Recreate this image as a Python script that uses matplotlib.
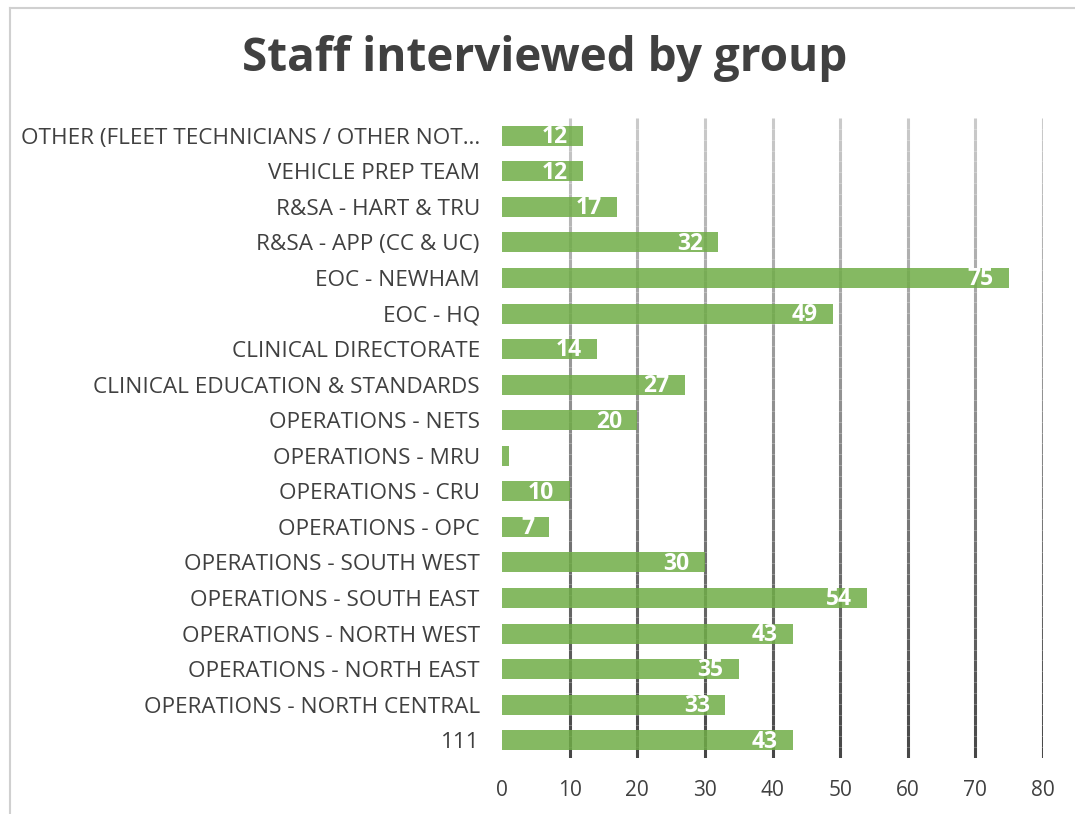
import numpy as np
import matplotlib
matplotlib.use("Agg")
import matplotlib.pyplot as plt
from matplotlib.collections import LineCollection
from matplotlib.lines import Line2D

# bottom to top, as drawn
groups = [
    "111",
    "OPERATIONS - NORTH CENTRAL",
    "OPERATIONS - NORTH EAST",
    "OPERATIONS - NORTH WEST",
    "OPERATIONS - SOUTH EAST",
    "OPERATIONS - SOUTH WEST",
    "OPERATIONS - OPC",
    "OPERATIONS - CRU",
    "OPERATIONS - MRU",
    "OPERATIONS - NETS",
    "CLINICAL EDUCATION & STANDARDS",
    "CLINICAL DIRECTORATE",
    "EOC - HQ",
    "EOC - NEWHAM",
    "R&SA - APP (CC & UC)",
    "R&SA - HART & TRU",
    "VEHICLE PREP TEAM",
    "OTHER (FLEET TECHNICIANS / OTHER NOT\u2026",
]
staff = [43, 33, 35, 43, 54, 30, 7, 10, 1, 20, 27, 14, 49, 75, 32, 17, 12, 12]
xticks = [0, 10, 20, 30, 40, 50, 60, 70, 80]

FONT = "Open Sans"
TEXT = "#404040"

fig = plt.figure(figsize=(10.75, 8.14), dpi=100)
ax = fig.add_axes([502 / 1075, 1 - 758 / 814, 541 / 1075, 640 / 814])

y = np.arange(len(groups))
ax.set_xlim(0, 80)
ax.set_ylim(-0.5, len(groups) - 0.5)

# gridlines fade from light at the top to dark at the bottom
ys = np.linspace(-0.5, len(groups) - 0.5, 60)
for xv in xticks[1:]:
    segs = [[(xv, ys[i]), (xv, ys[i + 1])] for i in range(len(ys) - 1)]
    frac = (ys[:-1] - ys[0]) / (ys[-1] - ys[0])
    greys = [(0.28 + 0.52 * f,) * 3 for f in frac]
    ax.add_collection(LineCollection(segs, colors=greys, linewidths=2.2, zorder=1))

bars = ax.barh(y, staff, height=0.56, color="#70AD47", alpha=0.85, zorder=2)
for yi, v in zip(y, staff):
    if v < 5:
        continue
    ax.annotate(str(v), (v, yi), xytext=(-11, -1), textcoords="offset points",
                ha="right", va="center", color="white", fontsize=16.5,
                fontweight="bold", family=FONT, zorder=3)

ax.set_yticks(y)
ax.set_yticklabels(groups, family=FONT, fontsize=16.2, color=TEXT)
ax.set_xticks(xticks)
ax.set_xticklabels([str(t) for t in xticks], family=FONT, fontsize=15, color=TEXT)
ax.tick_params(axis="both", length=0)
ax.tick_params(axis="x", pad=16)
ax.tick_params(axis="y", pad=16)
for s in ax.spines.values():
    s.set_visible(False)

fig.text(545 / 1075, 1 - 58 / 814, "Staff interviewed by group", ha="center",
         va="center", fontsize=33, fontweight="bold", color=TEXT, family=FONT)

# chart-area frame (left and top edges visible)
fig.add_artist(Line2D([10 / 1075, 10 / 1075], [0, 1 - 8 / 814], color="#d0d0d0", lw=1.5))
fig.add_artist(Line2D([10 / 1075, 1], [1 - 8 / 814, 1 - 8 / 814], color="#d0d0d0", lw=1.5))

fig.savefig("out.png", dpi=100)
